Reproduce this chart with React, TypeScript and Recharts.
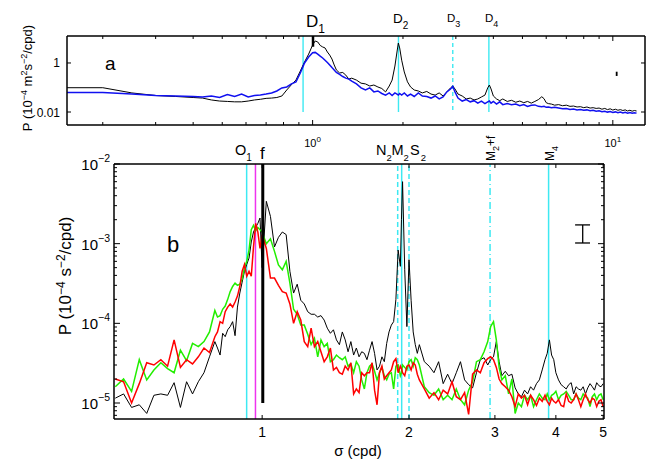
import { LineChart, Line, XAxis, YAxis, ReferenceLine } from 'recharts';

// Two stacked log-log spectra: (a) velocity spectra, (b) shear/strain spectra.
const FONT = '"Liberation Sans", Arial, Helvetica, sans-serif';
const CYAN = '#3de9f2';
const MAGENTA = '#ee33ee';

// ── panel a ───────────────────────────────────────────────────────────────────
const freqA = [
  0.152, 0.2, 0.25, 0.3, 0.35, 0.4,
  0.43, 0.46, 0.49, 0.52, 0.55, 0.58, 0.61, 0.64, 0.67, 0.7, 0.73, 0.76, 0.79, 0.82, 0.85, 0.88, 0.91, 0.94, 0.97,
  1.0,
  1.02, 1.04, 1.06, 1.08, 1.1, 1.12, 1.14, 1.16, 1.18, 1.2,
  1.23, 1.26, 1.29, 1.32, 1.35,
  1.4, 1.45, 1.5, 1.55, 1.6, 1.65, 1.7, 1.75, 1.8,
  1.84, 1.88, 1.91, 1.93, 1.95, 1.98,
  2.02, 2.07, 2.12, 2.18, 2.25, 2.32,
  2.4, 2.48, 2.56, 2.64, 2.72, 2.8, 2.88,
  2.93, 2.98, 3.05,
  3.15, 3.25, 3.35, 3.45, 3.55, 3.65, 3.75,
  3.83, 3.88, 3.93, 4.0,
  4.1, 4.2, 4.3,
  4.45, 4.6, 4.75, 4.9, 5.05, 5.2, 5.35, 5.5, 5.65, 5.8,
  5.9, 6.0, 6.1, 6.25, 6.4,
  6.6, 6.8, 7.0, 7.2, 7.4, 7.6, 7.8, 8.0, 8.2, 8.4, 8.6, 8.8, 9.0, 9.2, 9.4, 9.6, 9.8, 10, 10.2, 10.4, 10.6, 10.8, 11, 11.2, 11.4, 11.6, 11.8, 12,
];
const blackA = [
  0.098, 0.098, 0.06, 0.047, 0.043, 0.039,
  0.037, 0.031, 0.028, 0.027, 0.026, 0.026, 0.028, 0.031, 0.033, 0.036, 0.037, 0.039, 0.045, 0.079, 0.13, 0.2, 0.47, 1.1, 2.3,
  5.4,
  7.9, 7.2, 5.2, 4.5, 4.1, 2.8, 2.1, 1.45, 0.83, 0.52,
  0.39, 0.41, 0.32, 0.22, 0.24,
  0.2, 0.15, 0.14, 0.115, 0.126, 0.105, 0.091, 0.066, 0.115,
  0.2, 0.75, 2.8, 6.5, 4.1, 1.3,
  0.43, 0.17, 0.105, 0.079, 0.072, 0.06,
  0.069, 0.054, 0.049, 0.06, 0.045, 0.066, 0.096,
  0.115, 0.087, 0.054,
  0.045, 0.034, 0.037, 0.031, 0.034, 0.041, 0.049,
  0.096, 0.126, 0.087, 0.045,
  0.034, 0.029, 0.034,
  0.027, 0.03, 0.025, 0.028, 0.024, 0.027, 0.023, 0.027, 0.032, 0.042,
  0.035, 0.024, 0.022, 0.021, 0.019,
  0.02, 0.018, 0.019, 0.017, 0.0175, 0.016, 0.0165, 0.015, 0.016, 0.0145, 0.015, 0.014, 0.0145, 0.013, 0.014, 0.0125, 0.0135, 0.012, 0.013, 0.0118, 0.0125, 0.0115, 0.0122, 0.011, 0.0118, 0.0108, 0.0115, 0.011,
];
const blueA = [
  0.063, 0.063, 0.054, 0.047, 0.045, 0.043,
  0.041, 0.045, 0.039, 0.052, 0.043, 0.054, 0.041, 0.047, 0.049, 0.054, 0.06, 0.072, 0.096, 0.105, 0.14, 0.17, 0.39, 1.0, 1.75,
  2.6,
  2.7, 2.3, 1.9, 1.6, 1.3, 1.05, 0.83, 0.65, 0.52, 0.41,
  0.34, 0.28, 0.24, 0.22, 0.18,
  0.14, 0.096, 0.079, 0.096, 0.066, 0.072, 0.057, 0.049, 0.06,
  0.047, 0.06, 0.054, 0.049, 0.057, 0.049,
  0.06, 0.045, 0.054, 0.043, 0.06, 0.045,
  0.043, 0.037, 0.045, 0.034, 0.041, 0.066, 0.087,
  0.11, 0.066, 0.037,
  0.028, 0.032, 0.026, 0.029, 0.023, 0.028, 0.022,
  0.026, 0.028, 0.023, 0.027,
  0.021, 0.026, 0.02,
  0.022, 0.02, 0.021, 0.018, 0.02, 0.017, 0.019, 0.0195, 0.017, 0.0165,
  0.017, 0.0155, 0.016, 0.0148, 0.0155,
  0.0145, 0.0135, 0.014, 0.0128, 0.0133, 0.0122, 0.0127, 0.0117, 0.0122, 0.0112, 0.0117, 0.0107, 0.0112, 0.0102, 0.0108, 0.0099, 0.0104, 0.0096, 0.0101, 0.0093, 0.0099, 0.0091, 0.0097, 0.009, 0.0095, 0.0089, 0.0094, 0.009,
];
const xTicksA = [0.2, 0.3, 0.4, 0.5, 0.6, 0.7, 0.8, 0.9, 1, 2, 3, 4, 5, 6, 7, 8, 9, 10];
const yTicksA = [0.01, 1];
const tideA = [
  { f: 0.9295, dash: undefined },
  { f: 1.932, dash: undefined },
  { f: 2.93, dash: '4 3' },
  { f: 3.865, dash: undefined },
];

// ── panel b ───────────────────────────────────────────────────────────────────
const freqB = [
  0.5, 0.52, 0.54, 0.56, 0.58, 0.6, 0.62, 0.64, 0.66, 0.68, 0.7, 0.72, 0.74, 0.76, 0.78, 0.8,
  0.81, 0.82, 0.83, 0.84, 0.85, 0.86, 0.87, 0.88, 0.89, 0.9, 0.91, 0.92, 0.93, 0.94, 0.95, 0.96, 0.97, 0.98, 0.99, 1.0,
  1.02, 1.04, 1.06, 1.08, 1.1, 1.12, 1.14, 1.16, 1.18, 1.2, 1.22, 1.24, 1.26, 1.28, 1.3, 1.32, 1.34, 1.36, 1.38, 1.4,
  1.42, 1.44, 1.46, 1.48, 1.5, 1.52, 1.54, 1.56, 1.58, 1.6, 1.62, 1.64, 1.66, 1.68, 1.7, 1.72, 1.74, 1.76, 1.78, 1.8,
  1.82, 1.84, 1.86, 1.88, 1.9, 1.92, 1.93, 1.94, 1.96, 1.98, 2.0, 2.02, 2.04, 2.06, 2.08, 2.1,
  2.15, 2.2, 2.25, 2.3, 2.35, 2.4, 2.45, 2.5, 2.55, 2.6, 2.65, 2.7, 2.75, 2.8, 2.85, 2.9,
  2.94, 2.98, 3.02, 3.06, 3.1,
  3.15, 3.2, 3.25, 3.3, 3.35, 3.4, 3.45, 3.5, 3.55, 3.6, 3.65, 3.7, 3.75, 3.8,
  3.84, 3.88, 3.92, 3.96,
  4.0, 4.05, 4.1, 4.15, 4.2, 4.25, 4.3, 4.35, 4.4, 4.45, 4.5, 4.55, 4.6, 4.65, 4.7, 4.75, 4.8, 4.85, 4.9, 4.95, 5.0,
];
const blackB = [
  1.15e-5, 1.3e-5, 8.8e-6, 9.5e-6, 7.4e-6, 1.25e-5, 1.3e-5, 1.25e-5, 1.8e-5, 8.8e-6, 1.85e-5, 1.3e-5, 1.85e-5, 2.4e-5, 3.8e-5, 5.9e-5,
  4.9e-5, 4.0e-5, 7.5e-5, 6.8e-5, 8.3e-5, 9.1e-5, 1.05e-4, 7e-5, 1.6e-4, 2.4e-4, 3.3e-4, 4.5e-4, 5.5e-4, 6.6e-4, 1.05e-3, 1.4e-3, 1.6e-3, 1.8e-3, 2.1e-3, 5e-4,
  3.4e-3, 2.2e-3, 9.1e-4, 1.2e-3, 1.4e-3, 1.3e-3, 4.5e-4, 2.4e-4, 3.1e-4, 1.95e-4, 1.75e-4, 1.4e-4, 1.3e-4, 1.3e-4, 1.2e-4, 1.25e-4, 1.1e-4, 8.7e-5, 7.5e-5, 8.3e-5,
  6.2e-5, 5.4e-5, 7.8e-5, 6.2e-5, 4.4e-5, 5.9e-5, 4.0e-5, 4.9e-5, 3.8e-5, 4.4e-5, 4.2e-5, 3.5e-5, 4.6e-5, 5.9e-5, 4.2e-5, 2.6e-5, 2.9e-5, 3.8e-5, 3.3e-5, 5.6e-5,
  7.8e-5, 9.5e-5, 1.05e-4, 2.0e-4, 8.3e-4, 5.2e-4, 2.0e-3, 6.0e-3, 4.7e-4, 9.1e-5, 6.3e-4, 1.95e-4, 7.8e-5, 5.4e-5, 4.2e-5, 5.4e-5,
  3.3e-5, 2.9e-5, 2.4e-5, 3.3e-5, 1.75e-5, 2.3e-5, 1.75e-5, 2.4e-5, 3.3e-5, 1.95e-5, 1.7e-5, 1.55e-5, 2.4e-5, 3.5e-5, 3.7e-5, 3.0e-5,
  3.5e-5, 3.8e-5, 5.9e-5, 3.3e-5, 2.2e-5,
  2.5e-5, 2.2e-5, 2.3e-5, 1.55e-5, 1.3e-5, 1.2e-5, 1.45e-5, 1.3e-5, 1.6e-5, 1.45e-5, 1.75e-5, 1.95e-5, 2.6e-5, 3.5e-5,
  4.2e-5, 6.2e-5, 4.0e-5, 3.5e-5,
  2.4e-5, 1.95e-5, 1.7e-5, 1.6e-5, 1.5e-5, 1.7e-5, 1.8e-5, 1.3e-5, 1.6e-5, 1.5e-5, 1.45e-5, 1.6e-5, 1.3e-5, 1.55e-5, 1.75e-5, 1.6e-5, 1.45e-5, 1.8e-5, 1.65e-5, 1.6e-5, 1.75e-5,
];
const greenB = [
  1.6e-5, 2.0e-5, 1.4e-5, 3.5e-5, 1.95e-5, 2.6e-5, 3.2e-5, 2.7e-5, 2.4e-5, 4.6e-5, 3.4e-5, 5.6e-5, 5.1e-5, 5.9e-5, 7.8e-5, 1.45e-4,
  1.2e-4, 1.25e-4, 1.5e-4, 1.65e-4, 2.0e-4, 2.5e-4, 2.9e-4, 3.2e-4, 3.0e-4, 3.1e-4, 3.6e-4, 5.0e-4, 6.0e-4, 8.3e-4, 1.5e-3, 1.7e-3, 1.45e-3, 1.6e-3, 1.5e-3, 1.4e-3,
  1.0e-3, 1.15e-3, 8.0e-4, 5.4e-4, 4.7e-4, 6.0e-4, 3.2e-4, 1.5e-4, 1.3e-4, 9.5e-5, 9.5e-5, 7.3e-5, 5.4e-5, 6.5e-5, 3.8e-5, 6.2e-5, 5.1e-5, 5.6e-5, 3.3e-5, 3.5e-5,
  4.0e-5, 3.7e-5, 3.5e-5, 3.8e-5, 2.9e-5, 3.1e-5, 2.4e-5, 3.3e-5, 2.9e-5, 1.95e-5, 1.5e-5, 2.4e-5, 2.9e-5, 3.1e-5, 2.5e-5, 1.95e-5, 2.4e-5, 2.8e-5, 2.2e-5, 1.95e-5,
  2.3e-5, 2.4e-5, 1.5e-5, 2.9e-5, 3.0e-5, 2.2e-5, 2.4e-5, 3.0e-5, 2.8e-5, 2.6e-5, 3.3e-5, 3.5e-5, 2.9e-5, 3.7e-5, 3.5e-5, 3.0e-5,
  1.6e-5, 1.35e-5, 1.25e-5, 1.5e-5, 1.1e-5, 1.25e-5, 1.1e-5, 1.5e-5, 1.1e-5, 9.5e-6, 1.45e-5, 1.85e-5, 3.3e-5, 3.5e-5, 4.4e-5, 5.9e-5,
  9.1e-5, 1.05e-4, 6.2e-5, 2.8e-5, 1.95e-5,
  2.2e-5, 1.3e-5, 2.0e-5, 7.4e-6, 1.0e-5, 9e-6, 1.25e-5, 1.1e-5, 1.25e-5, 9e-6, 1.1e-5, 1.3e-5, 1.15e-5, 1.1e-5,
  1.3e-5, 1.1e-5, 1.25e-5, 1.3e-5,
  1.4e-5, 1.1e-5, 1.25e-5, 1.3e-5, 1.4e-5, 1.25e-5, 1.1e-5, 1.1e-5, 1.3e-5, 1.15e-5, 1.1e-5, 1.3e-5, 1.2e-5, 1.15e-5, 9e-6, 1.2e-5, 1.3e-5, 1.1e-5, 1.25e-5, 1.3e-5, 1.1e-5,
];
const redB = [
  2.0e-5, 1.85e-5, 1.0e-5, 1.75e-5, 3.2e-5, 3.0e-5, 3.5e-5, 2.9e-5, 6.2e-5, 2.8e-5, 3.5e-5, 3.1e-5, 3.8e-5, 4.9e-5, 4.3e-5, 6.8e-5,
  7.8e-5, 1.05e-4, 1.0e-4, 1.4e-4, 1.6e-4, 1.75e-4, 1.6e-4, 1.85e-4, 2.2e-4, 2.9e-4, 4.5e-4, 5.5e-4, 3.9e-4, 4.5e-4, 3.9e-4, 9.1e-4, 1.8e-3, 1.4e-3, 8.7e-4, 1.3e-3,
  8.7e-4, 3.7e-4, 3.7e-4, 3.0e-4, 2.5e-4, 2.4e-4, 1.75e-4, 1.0e-4, 1.4e-4, 1.1e-4, 5.9e-5, 5.1e-5, 8.7e-5, 5.1e-5, 5.9e-5, 4.4e-5, 3.3e-5, 3.8e-5, 4.9e-5, 2.6e-5,
  2.8e-5, 2.4e-5, 2.3e-5, 2.9e-5, 2.6e-5, 3.2e-5, 1.3e-5, 1.5e-5, 1.35e-5, 2.4e-5, 2.2e-5, 2.4e-5, 2.4e-5, 3.2e-5, 1.45e-5, 9.5e-6, 2.4e-5, 2.9e-5, 2.0e-5, 2.2e-5,
  2.4e-5, 2.6e-5, 3.3e-5, 3.6e-5, 2.4e-5, 2.9e-5, 2.7e-5, 2.4e-5, 2.2e-5, 2.9e-5, 3.0e-5, 2.6e-5, 3.2e-5, 3.0e-5, 2.3e-5, 1.95e-5,
  1.5e-5, 1.15e-5, 1.35e-5, 1.1e-5, 1.45e-5, 1.3e-5, 1.85e-5, 1.2e-5, 1.1e-5, 1.35e-5, 7.2e-6, 2.3e-5, 2.6e-5, 2.4e-5, 3.2e-5, 3.6e-5,
  3.8e-5, 3.5e-5, 2.8e-5, 2.0e-5, 1.75e-5,
  1.6e-5, 1.45e-5, 1.2e-5, 9e-6, 1.3e-5, 1.15e-5, 1.25e-5, 9.5e-6, 1.25e-5, 1.1e-5, 9.3e-6, 1.15e-5, 1.05e-5, 1.25e-5,
  1.05e-5, 9.5e-6, 1.15e-5, 1.05e-5,
  1.0e-5, 1.1e-5, 9.3e-6, 9e-6, 1.3e-5, 1.05e-5, 1.0e-5, 1.1e-5, 1.3e-5, 1.1e-5, 9e-6, 1.1e-5, 1.3e-5, 1.1e-5, 1.0e-5, 1.15e-5, 1.1e-5, 9e-6, 1.05e-5, 1.1e-5, 9e-6,
];
const xTicksB = [1, 2, 3, 4, 5];
const yTicksB = [
  7e-6, 8e-6, 9e-6,
  1e-5, 2e-5, 3e-5, 4e-5, 5e-5, 6e-5, 7e-5, 8e-5, 9e-5,
  1e-4, 2e-4, 3e-4, 4e-4, 5e-4, 6e-4, 7e-4, 8e-4, 9e-4,
  1e-3, 2e-3, 3e-3, 4e-3, 5e-3, 6e-3, 7e-3, 8e-3, 9e-3, 1e-2,
];
const tideB = [
  { f: 0.9295, color: CYAN, dash: undefined },
  { f: 0.969, color: MAGENTA, dash: undefined },
  { f: 1.896, color: CYAN, dash: '5 3' },
  { f: 1.932, color: CYAN, dash: undefined },
  { f: 2.0, color: CYAN, dash: '5 3' },
  { f: 2.932, color: CYAN, dash: '7 3 1 3' },
  { f: 3.865, color: CYAN, dash: undefined },
];

const rowsA = freqA.map((f, i) => ({ f, black: blackA[i], blue: blueA[i] }));
const rowsB = freqB.map((f, i) => ({ f, black: blackB[i], green: greenB[i], red: redB[i] }));

const isDecade = (v: number) => Math.abs(Math.log10(v) - Math.round(Math.log10(v))) < 1e-6;
const EXP = (v: number) => String(Math.round(Math.log10(v))).replace('-', '\u2212');

// ── tick renderers (inward ticks, MATLAB-like) ────────────────────────────────
function aBottom({ x = 0, y = 0, payload }: any) {
  const v = payload.value;
  const major = isDecade(v);
  return (
    <g>
      <line x1={x} x2={x} y1={y} y2={y - (major ? 5 : 3)} stroke="#000" />
      {major && (
        <text x={x} y={y + 22} textAnchor="middle" fontSize={11} fontFamily={FONT} fill="#000">
          10<tspan dy={-5} fontSize={8}>{EXP(v)}</tspan>
        </text>
      )}
    </g>
  );
}
function aTop({ x = 0, y = 0, payload }: any) {
  const major = isDecade(payload.value);
  return <line x1={x} x2={x} y1={y} y2={y + (major ? 5 : 3)} stroke="#000" />;
}
function aLeft({ x = 0, y = 0, payload }: any) {
  return (
    <g>
      <line x1={x} x2={x + 4} y1={y} y2={y} stroke="#000" />
      <text x={x - 7} y={y + 4.5} textAnchor="end" fontSize={12} fontFamily={FONT} fill="#000">
        {payload.value === 1 ? '1' : '0.01'}
      </text>
    </g>
  );
}
function aRight({ x = 0, y = 0 }: any) {
  return <line x1={x} x2={x - 4} y1={y} y2={y} stroke="#000" />;
}
function bBottom({ x = 0, y = 0, payload }: any) {
  return (
    <g>
      <line x1={x} x2={x} y1={y} y2={y - 4} stroke="#000" />
      <text x={x} y={y + 18} textAnchor="middle" fontSize={14} fontFamily={FONT} fill="#000">{payload.value}</text>
    </g>
  );
}
function bTop({ x = 0, y = 0 }: any) {
  return <line x1={x} x2={x} y1={y} y2={y + 4} stroke="#000" />;
}
function bLeft({ x = 0, y = 0, payload }: any) {
  const v = payload.value;
  const major = isDecade(v);
  return (
    <g>
      <line x1={x} x2={x + (major ? 6 : 3)} y1={y} y2={y} stroke="#000" />
      {major && (
        <text x={x - 4} y={y + 6} textAnchor="end" fontSize={15} fontFamily={FONT} fill="#000">
          10<tspan dy={-8} fontSize={10.5}>{EXP(v)}</tspan>
        </text>
      )}
    </g>
  );
}
function bRight({ x = 0, y = 0, payload }: any) {
  const major = isDecade(payload.value);
  return <line x1={x} x2={x - (major ? 6 : 3)} y1={y} y2={y} stroke="#000" />;
}

const AXIS = { stroke: '#000', strokeWidth: 1.5 };

function PanelA() {
  return (
    <LineChart width={648} height={152} data={rowsA} margin={{ top: 0, right: 0, bottom: 0, left: 0 }}>
      <XAxis xAxisId="x" dataKey="f" type="number" scale="log" domain={[0.152, 12.8]} allowDataOverflow ticks={xTicksA} interval={0} height={27} tickSize={0} tickMargin={0} tickLine={false} axisLine={AXIS} tick={aBottom} />
      <XAxis xAxisId="xt" orientation="top" dataKey="f" type="number" scale="log" domain={[0.152, 12.8]} allowDataOverflow ticks={xTicksA} interval={0} height={36} tickSize={0} tickMargin={0} tickLine={false} axisLine={AXIS} tick={aTop} />
      <YAxis yAxisId="y" type="number" scale="log" domain={[0.00295, 12.6]} allowDataOverflow ticks={yTicksA} interval={0} width={67} tickSize={0} tickMargin={0} tickLine={false} axisLine={AXIS} tick={aLeft} />
      <YAxis yAxisId="yr" orientation="right" type="number" scale="log" domain={[0.00295, 12.6]} allowDataOverflow ticks={yTicksA} interval={0} width={3} tickSize={0} tickMargin={0} tickLine={false} axisLine={AXIS} tick={aRight} />
      {tideA.map((t) => (
        <ReferenceLine key={t.f} xAxisId="x" yAxisId="y" segment={[{ x: t.f, y: 12.6 }, { x: t.f, y: 0.01 }]} stroke={CYAN} strokeWidth={1.4} strokeDasharray={t.dash} />
      ))}
      <Line xAxisId="x" yAxisId="y" dataKey="black" stroke="#000" strokeWidth={1} dot={false} isAnimationActive={false} />
      <Line xAxisId="x" yAxisId="y" dataKey="blue" stroke="#1010f0" strokeWidth={1.5} dot={false} isAnimationActive={false} />
      <ReferenceLine xAxisId="x" yAxisId="y" segment={[{ x: 1.003, y: 12.6 }, { x: 1.003, y: 4.6 }]} stroke="#000" strokeWidth={2.5} />
      <ReferenceLine xAxisId="x" yAxisId="y" segment={[{ x: 10.3, y: 0.295 }, { x: 10.3, y: 0.44 }]} stroke="#000" strokeWidth={1.8} />
    </LineChart>
  );
}

function PanelB() {
  return (
    <LineChart width={648} height={322} data={rowsB} margin={{ top: 0, right: 0, bottom: 0, left: 0 }}>
      <XAxis xAxisId="x" dataKey="f" type="number" scale="log" domain={[0.497, 5.02]} allowDataOverflow ticks={xTicksB} interval={0} height={43} tickSize={0} tickMargin={0} tickLine={false} axisLine={AXIS} tick={bBottom} />
      <XAxis xAxisId="xt" orientation="top" dataKey="f" type="number" scale="log" domain={[0.497, 5.02]} allowDataOverflow ticks={xTicksB} interval={0} height={24} tickSize={0} tickMargin={0} tickLine={false} axisLine={AXIS} tick={bTop} />
      <YAxis yAxisId="y" type="number" scale="log" domain={[6.3e-6, 1e-2]} allowDataOverflow ticks={yTicksB} interval={0} width={114} tickSize={0} tickMargin={0} tickLine={false} axisLine={AXIS} tick={bLeft} />
      <YAxis yAxisId="yr" orientation="right" type="number" scale="log" domain={[6.3e-6, 1e-2]} allowDataOverflow ticks={yTicksB} interval={0} width={44} tickSize={0} tickMargin={0} tickLine={false} axisLine={AXIS} tick={bRight} />
      {tideB.map((t) => (
        <ReferenceLine key={t.f} xAxisId="x" yAxisId="y" x={t.f} stroke={t.color} strokeWidth={1.5} strokeDasharray={t.dash} />
      ))}
      <Line xAxisId="x" yAxisId="y" dataKey="black" stroke="#000" strokeWidth={1} dot={false} isAnimationActive={false} />
      <Line xAxisId="x" yAxisId="y" dataKey="green" stroke="#22ee00" strokeWidth={1.5} dot={false} isAnimationActive={false} />
      <Line xAxisId="x" yAxisId="y" dataKey="red" stroke="#ff0000" strokeWidth={1.5} dot={false} isAnimationActive={false} />
      <ReferenceLine xAxisId="x" yAxisId="y" segment={[{ x: 1.003, y: 1e-2 }, { x: 1.003, y: 1e-5 }]} stroke="#000" strokeWidth={3} />
      <ReferenceLine xAxisId="x" yAxisId="y" segment={[{ x: 4.54, y: 1.72e-3 }, { x: 4.54, y: 1.02e-3 }]} stroke="#000" strokeWidth={1.3} />
      <ReferenceLine xAxisId="x" yAxisId="y" segment={[{ x: 4.38, y: 1.72e-3 }, { x: 4.7, y: 1.72e-3 }]} stroke="#000" strokeWidth={1.3} />
      <ReferenceLine xAxisId="x" yAxisId="y" segment={[{ x: 4.38, y: 1.02e-3 }, { x: 4.7, y: 1.02e-3 }]} stroke="#000" strokeWidth={1.3} />
    </LineChart>
  );
}

export default function App() {
  return (
    <div style={{ position: 'absolute', left: 0, top: 0, width: 648, height: 462, background: '#fff', fontFamily: FONT }}>
      <div style={{ position: 'absolute', left: 0, top: 0 }}><PanelA /></div>
      <div style={{ position: 'absolute', left: 0, top: 140 }}><PanelB /></div>
      <svg width={648} height={462} style={{ position: 'absolute', left: 0, top: 0, pointerEvents: 'none' }} fontFamily={FONT} fill="#000">
        {/* panel a labels */}
        <text transform="translate(31.5,78) rotate(-90)" textAnchor="middle" fontSize={13}>
          P (10<tspan dy={-5} fontSize={9}>−4</tspan><tspan dy={5}> m</tspan><tspan dy={-5} fontSize={9}>2</tspan><tspan dy={5}>s</tspan><tspan dy={-5} fontSize={9}>−2</tspan><tspan dy={5}>/cpd)</tspan>
        </text>
        <text x={105} y={70} fontSize={19}>a</text>
        <text x={306} y={27} fontSize={17}>D<tspan dy={6} fontSize={12}>1</tspan></text>
        <text x={393} y={23} fontSize={13.5}>D<tspan dy={6} fontSize={10}>2</tspan></text>
        <text x={447} y={22} fontSize={11.5}>D<tspan dy={5} fontSize={9}>3</tspan></text>
        <text x={485} y={22} fontSize={11.5}>D<tspan dy={5} fontSize={9}>4</tspan></text>
        {/* panel b labels */}
        <text transform="translate(71,276) rotate(-90)" textAnchor="middle" fontSize={17}>
          P (10<tspan dy={-6} fontSize={12}>−4</tspan><tspan dy={6}> s</tspan><tspan dy={-6} fontSize={12}>−2</tspan><tspan dy={6}>/cpd)</tspan>
        </text>
        <text x={167} y={252} fontSize={22}>b</text>
        <text x={235} y={155} fontSize={14.5}>O<tspan dy={6} fontSize={10}>1</tspan></text>
        <text x={260} y={159} fontSize={17}>f</text>
        <text x={376} y={155} fontSize={14.5}>N<tspan dy={6} fontSize={9.5}>2</tspan></text>
        <text x={391.5} y={155} fontSize={14.5}>M<tspan dy={6} fontSize={9.5}>2</tspan></text>
        <text x={410} y={155} fontSize={14.5}>S<tspan dx={1} dy={6} fontSize={9.5}>2</tspan></text>
        <text transform="translate(495,161) rotate(-90)" fontSize={12}>M<tspan dy={4} fontSize={9}>2</tspan><tspan dy={-4}>+f</tspan></text>
        <text transform="translate(554,161) rotate(-90)" fontSize={12}>M<tspan dy={4} fontSize={9}>4</tspan></text>
        <text x={358} y={456} textAnchor="middle" fontSize={15}>σ (cpd)</text>
      </svg>
    </div>
  );
}
